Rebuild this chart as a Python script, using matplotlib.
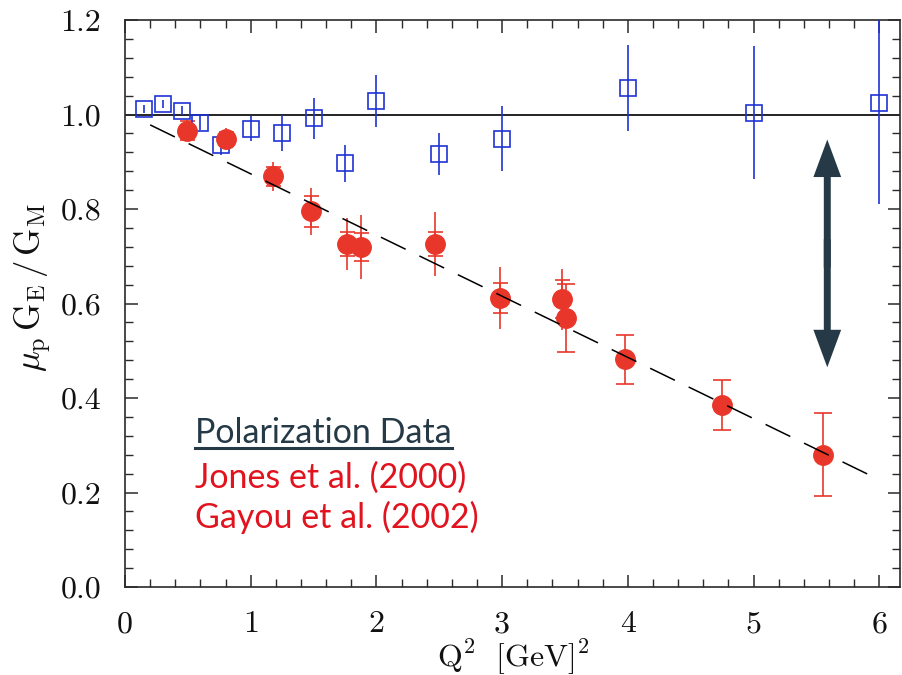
import matplotlib
matplotlib.use('Agg')
import matplotlib.pyplot as plt
from matplotlib.patches import FancyArrowPatch
from matplotlib.lines import Line2D
from matplotlib.ticker import MultipleLocator

plt.rcParams['mathtext.fontset'] = 'cm'
plt.rcParams['axes.formatter.use_mathtext'] = True

# ---------------- data ----------------
# Rosenbluth separation (blue open squares)
ros_q2 = [0.15, 0.30, 0.45, 0.60, 0.76, 1.00, 1.25, 1.50, 1.75, 2.00, 2.50, 3.00, 4.00, 5.00, 6.00]
ros_ratio = [1.012, 1.022, 1.008, 0.983, 0.936, 0.970, 0.961, 0.992, 0.897, 1.029, 0.916, 0.949,
             1.056, 1.004, 1.025]
ros_err = [0.008, 0.008, 0.010, 0.015, 0.021, 0.026, 0.039, 0.043, 0.039, 0.055, 0.044, 0.068,
           0.091, 0.141, 0.215]

# Jones et al. (2000)
jones_q2 = [0.49, 0.80, 1.18, 1.48, 1.77, 1.88, 2.47, 2.98, 3.48]
jones_ratio = [0.966, 0.949, 0.869, 0.795, 0.726, 0.719, 0.726, 0.612, 0.609]
jones_stat = [0.020, 0.015, 0.020, 0.033, 0.026, 0.030, 0.026, 0.032, 0.040]
jones_tot = [0.023, 0.022, 0.031, 0.049, 0.055, 0.068, 0.068, 0.065, 0.065]

# Gayou et al. (2002)
gayou_q2 = [3.51, 3.98, 4.75, 5.55]
gayou_ratio = [0.570, 0.482, 0.386, 0.280]
gayou_err = [0.072, 0.052, 0.053, 0.088]

# linear fit (dashed)
fit_q2 = [0.2, 6.0]
fit_ratio = [0.978, 0.227]

x_ticks = [0, 1, 2, 3, 4, 5, 6]
x_ticklabels = ['0', '1', '2', '3', '4', '5', '6']
y_ticks = [0.0, 0.2, 0.4, 0.6, 0.8, 1.0, 1.2]
y_ticklabels = ['0.0', '0.2', '0.4', '0.6', '0.8', '1.0', '1.2']

legend_title = 'Polarization Data'
legend_lines = ['Jones et al. (2000)', 'Gayou et al. (2002)']

arrow_q2 = 5.587
arrow_mid = 0.706
arrow_top = 0.947
arrow_bottom = 0.465

# ---------------- style ----------------
BLUE = '#1f33d6'
RED = '#e8372a'
TXT_RED = '#e0131f'
SLATE = '#253a46'
AXC = '#2a2a2a'

W, H = 902, 675
fig = plt.figure(figsize=(W / 100, H / 100), dpi=100)
ax = fig.add_axes([125 / W, 1 - 587 / H, (900 - 125) / W, (587 - 20) / H])
ax.set_xlim(0, 775 / 125.7)
ax.set_ylim(0, 1.2)

for s in ax.spines.values():
    s.set_color(AXC)
    s.set_linewidth(1.2)

ax.axhline(1.0, color='black', lw=1.2, zorder=1)

ax.errorbar(ros_q2, ros_ratio, yerr=ros_err, fmt='s', ms=11.5, mfc='none', mec=BLUE, mew=1.2,
            ecolor=BLUE, elinewidth=1.2, capsize=0, zorder=3)

ax.errorbar(jones_q2, jones_ratio, yerr=jones_tot, fmt='none', ecolor=RED, elinewidth=1.2,
            capsize=0, zorder=3)
ax.errorbar(jones_q2, jones_ratio, yerr=jones_stat, fmt='o', ms=14, color=RED, mec=RED,
            ecolor=RED, elinewidth=1.2, capsize=5.4, capthick=1.2, zorder=3)
ax.errorbar(gayou_q2, gayou_ratio, yerr=gayou_err, fmt='o', ms=14, color=RED, mec=RED,
            ecolor=RED, elinewidth=1.2, capsize=6.5, capthick=1.2, zorder=3)

ax.plot(fit_q2, fit_ratio, color='black', lw=1.1, dashes=(18, 10), zorder=5)

# double arrow (two halves overlapping at the middle)
overlap = 0.03
for start, tip in ((arrow_mid - overlap, arrow_top), (arrow_mid + overlap, arrow_bottom)):
    arr = FancyArrowPatch((arrow_q2, start), (arrow_q2, tip),
                          arrowstyle='simple,head_length=27,head_width=20,tail_width=5',
                          mutation_scale=1, color=SLATE, lw=0, zorder=6,
                          shrinkA=0, shrinkB=0)
    ax.add_patch(arr)

# ticks
ax.set_xticks(x_ticks)
ax.set_xticklabels(x_ticklabels, fontfamily='cmr10', fontsize=23)
ax.set_yticks(y_ticks)
ax.set_yticklabels(y_ticklabels, fontfamily='cmr10', fontsize=23)
ax.xaxis.set_minor_locator(MultipleLocator(0.2))
ax.yaxis.set_minor_locator(MultipleLocator(0.04))
ax.tick_params(which='both', direction='in', top=True, right=True, color=AXC, labelcolor='#111111')
ax.tick_params(which='major', length=9, width=1.1)
ax.tick_params(which='minor', length=5.5, width=1.0)
ax.tick_params(axis='x', which='major', pad=17)
ax.tick_params(axis='y', which='major', pad=17)

# axis labels
fig.text(513 / W, 1 - 657 / H, r'$\mathrm{Q}^2\ \ [\mathrm{GeV}]^2$', fontsize=23,
         ha='center', va='center', color='#111111')
fig.text(33 / W, 1 - 287 / H,
         r'$\mu_{\mathrm{p}}\,\mathrm{G}_{\mathrm{E}}\,/\,\mathrm{G}_{\mathrm{M}}$',
         fontsize=25, rotation=90, ha='center', va='center', color='#111111')

# annotation text
t0 = fig.text(195 / W, 1 - 443.3 / H, legend_title, fontfamily='Lato', fontsize=24.5,
              color=SLATE, ha='left', va='baseline')
fig.text(195 / W, 1 - 488.3 / H, legend_lines[0], fontfamily='Lato', fontsize=24.5,
         color=TXT_RED, ha='left', va='baseline')
fig.text(195 / W, 1 - 528.3 / H, legend_lines[1], fontfamily='Lato', fontsize=24.5,
         color=TXT_RED, ha='left', va='baseline')

fig.canvas.draw()
bb = t0.get_window_extent(fig.canvas.get_renderer())
uy = (H - 447.5) / H
fig.add_artist(Line2D([bb.x0 / W, bb.x1 / W], [uy, uy], transform=fig.transFigure,
                      color=SLATE, lw=2.2))

fig.savefig('out.png', dpi=100)
